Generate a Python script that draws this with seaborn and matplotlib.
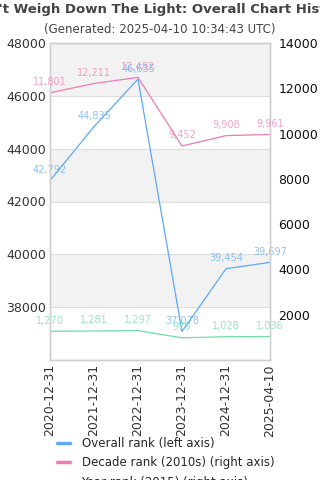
import numpy as np
import pandas as pd
import matplotlib.pyplot as plt
import seaborn as sns

dates = ['2020-12-31', '2021-12-31', '2022-12-31', '2023-12-31', '2024-12-31', '2025-04-10']
overall_rank = [42792, 44835, 46635, 37078, 39454, 39697]
decade_rank = [11801, 12211, 12482, 9452, 9908, 9961]
year_rank = [1270, 1281, 1297, 979, 1028, 1036]

c_overall = '#5ea9f2'
c_decade = '#ef7ab5'
c_year = '#6edba9'

sns.set_theme(style="white")
plt.rcParams['font.family'] = ['DejaVu Sans']

df = pd.DataFrame({'date': dates, 'overall': overall_rank,
                   'decade': decade_rank, 'year': year_rank})
df['pos'] = np.arange(len(dates))

fig = plt.figure(figsize=(3.2, 4.8), dpi=100)
ax = fig.add_axes([50/320, 1 - 360/480, 220/320, 317/480])
ax2 = ax.twinx()

# alternating bands on the left axis
for lo in range(36000, 48000, 2000):
    if (lo // 2000) % 2 == 1:
        ax.axhspan(lo, lo + 2000, color='#f2f2f2', zorder=0, lw=0)
for y in range(38000, 48001, 2000):
    ax.axhline(y, color='#dddddd', lw=0.8, zorder=0.5)

sns.lineplot(data=df, x='pos', y='overall', ax=ax, color=c_overall, lw=0.9,
             label='Overall rank (left axis)', legend=False)
sns.lineplot(data=df, x='pos', y='decade', ax=ax2, color=c_decade, lw=0.9,
             label='Decade rank (2010s) (right axis)', legend=False)
sns.lineplot(data=df, x='pos', y='year', ax=ax2, color=c_year, lw=0.9,
             label='Year rank (2015) (right axis)', legend=False)

ax.set_ylim(36000, 48000)
ax2.set_ylim(0, 14000)
ax.set_xlim(0, len(dates) - 1)
ax.set_yticks(range(38000, 48001, 2000))
ax2.set_yticks(range(2000, 14001, 2000))
ax.set_xticks(df['pos'])
ax.set_xticklabels(dates, rotation=90)
ax.set_xlabel('')
ax.set_ylabel('')
ax2.set_ylabel('')
ax.tick_params(axis='both', labelsize=9, length=0, pad=3, colors='#333333')
ax2.tick_params(axis='y', labelsize=9, length=0, pad=6, colors='#111111')

for a in (ax, ax2):
    for s in a.spines.values():
        s.set_color('#d0d0d0')
        s.set_linewidth(1)

for x, v in zip(df['pos'], overall_rank):
    ax.annotate(f'{v:,}', (x, v), xytext=(0, 4), textcoords='offset points',
                ha='center', va='bottom', fontsize=7, color=c_overall, alpha=0.7)
for x, v in zip(df['pos'], decade_rank):
    ax2.annotate(f'{v:,}', (x, v), xytext=(0, 4), textcoords='offset points',
                 ha='center', va='bottom', fontsize=7, color=c_decade, alpha=0.7)
for x, v in zip(df['pos'], year_rank):
    ax2.annotate(f'{v:,}', (x, v), xytext=(0, 4), textcoords='offset points',
                 ha='center', va='bottom', fontsize=7, color=c_year, alpha=0.7)

fig.text(0.5, 1 - 9/480, "Don't Weigh Down The Light: Overall Chart History",
         ha='center', va='center', fontsize=9.5, fontweight='bold', color='#444444')
fig.text(0.5, 1 - 30/480, '(Generated: 2025-04-10 10:34:43 UTC)',
         ha='center', va='center', fontsize=8.5, color='#444444')

h1, l1 = ax.get_legend_handles_labels()
h2, l2 = ax2.get_legend_handles_labels()
leg = fig.legend(h1 + h2, l1 + l2, loc='upper left', bbox_to_anchor=(52/320, 1 - 432/480),
                 frameon=False, fontsize=8.5, handlelength=1.1, handletextpad=1.0,
                 labelspacing=0.55, borderaxespad=0)
for line in leg.get_lines():
    line.set_linewidth(2.5)

fig.savefig('out.png', dpi=100)
